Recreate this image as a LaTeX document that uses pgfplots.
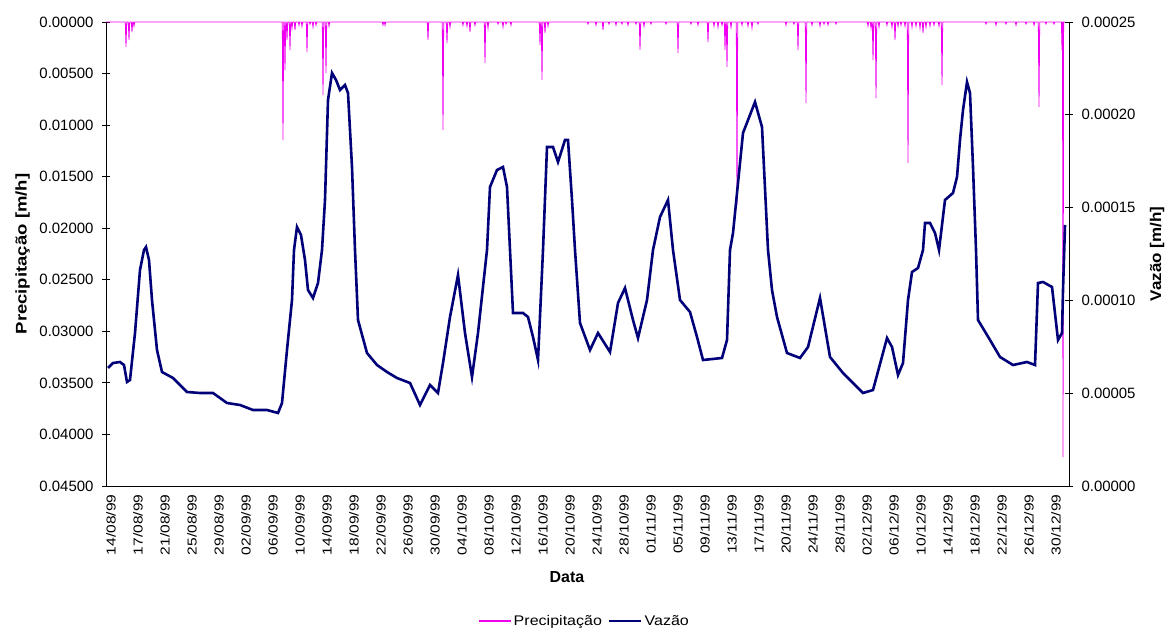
\documentclass[border=0pt]{standalone}
\usepackage{fontspec}
\setmainfont{Liberation Sans}
\usepackage{graphicx}
\usepackage{pgfplots}
\pgfplotsset{compat=1.18}

\definecolor{precip}{RGB}{240,0,240}
\definecolor{vazao}{RGB}{0,0,120}

% x positions are in plot-position units (0 = left edge, 963 = right edge),
% the dates are category labels spaced evenly as in the spreadsheet
\newcommand{\D}[1]{\scalebox{1.2}[1]{#1}}

\pgfplotsset{
  fmt5/.style={
    /pgf/number format/fixed,
    /pgf/number format/fixed zerofill,
    /pgf/number format/precision=5,
    /pgf/number format/1000 sep={},
    /pgf/number format/assume math mode=true},
}

\begin{document}
\begin{tikzpicture}
\path[use as bounding box] (-106bp,-147bp) rectangle (1066bp,486bp);

% --- Precipitação (left axis, reversed)
\begin{axis}[
  at={(0,0)}, anchor=south west,
  scale only axis,
  width=963bp, height=464bp,
  xmin=0, xmax=963,
  ymin=0, ymax=0.045,
  y dir=reverse,
  axis x line=bottom,
  axis y line=left,
  axis line style={black,line width=0.8bp,-},
  clip=false,
  xtick={5,32,59,86,113,140,167,194,221,248,275,302,329,356,383,410,437,464,491,518,545,572,599,626,653,680,707,734,761,788,815,842,869,896,923,950},
  xticklabels={\D{14/08/99},\D{17/08/99},\D{21/08/99},\D{25/08/99},\D{29/08/99},\D{02/09/99},\D{06/09/99},\D{10/09/99},\D{14/09/99},\D{18/09/99},\D{22/09/99},\D{26/09/99},\D{30/09/99},\D{04/10/99},\D{08/10/99},\D{12/10/99},\D{16/10/99},\D{20/10/99},\D{24/10/99},\D{28/10/99},\D{01/11/99},\D{05/11/99},\D{09/11/99},\D{13/11/99},\D{17/11/99},\D{20/11/99},\D{24/11/99},\D{28/11/99},\D{02/12/99},\D{06/12/99},\D{10/12/99},\D{14/12/99},\D{18/12/99},\D{22/12/99},\D{26/12/99},\D{30/12/99}},
  x tick label style={rotate=90, anchor=east, font=\fontsize{13}{15}\selectfont, xshift=-1bp},
  major x tick style={draw=none},
  ytick={0,0.005,...,0.0451},
  scaled y ticks=false,
  y tick label style={fmt5, font=\fontsize{15}{18}\selectfont, xshift=-5bp},
  major y tick style={black, line width=0.8bp},
  major tick length=8bp,
  tick align=center,
  xlabel={\bfseries Data},
  xlabel style={font=\fontsize{16}{18}\selectfont, at={(axis description cs:0.4787,-0.196)}, anchor=center},
  ylabel={\scalebox{1.2}[1]{\bfseries Precipitação [m/h]}},
  ylabel style={font=\fontsize{15.5}{18}\selectfont, at={(axis description cs:-0.0865,0.5)}, anchor=center},
]
\addplot[precip, line width=0.8bp] coordinates {
(0,0)
(19.3,0) (20,0.00242) (20.7,0)
(22.3,0) (23,0.00175) (23.7,0)
(25.3,0) (26,0.00097) (26.7,0)
(27.3,0) (28,0.0004) (28.7,0)
(176.3,0) (177,0.01144) (177.7,0)
(178.3,0) (179,0.00466) (179.7,0)
(180.3,0) (181,0.00175) (181.7,0)
(183.3,0) (184,0.00272) (184.7,0)
(185.3,0) (186,0.0006) (186.7,0)
(188.3,0) (189,0.00078) (189.7,0)
(192.3,0) (193,0.0003) (193.7,0)
(195.3,0) (196,0.0004) (196.7,0)
(200.3,0) (201,0.00291) (201.7,0)
(203.3,0) (204,0.0002) (204.7,0)
(206.3,0) (207,0.00048) (207.7,0)
(209.3,0) (210,0.0003) (210.7,0)
(216.3,0) (217,0.00708) (217.7,0)
(219.3,0) (220,0.00495) (220.7,0)
(222.3,0) (223,0.0004) (223.7,0)
(276.3,0) (277,0.00029) (277.7,0)
(278.3,0) (279,0.0003) (279.7,0)
(321.3,0) (322,0.00175) (322.7,0)
(336.3,0) (337,0.01047) (337.7,0)
(340.3,0) (341,0.00204) (341.7,0)
(343.3,0) (344,0.0005) (344.7,0)
(356.3,0) (357,0.0003) (357.7,0)
(360.3,0) (361,0.0004) (361.7,0)
(363.3,0) (364,0.00097) (364.7,0)
(368.3,0) (369,0.0003) (369.7,0)
(378.3,0) (379,0.00398) (379.7,0)
(381.3,0) (382,0.0006) (382.7,0)
(391.3,0) (392,0.0002) (392.7,0)
(396.3,0) (397,0.00048) (397.7,0)
(399.3,0) (400,0.0002) (400.7,0)
(404.3,0) (405,0.0003) (405.7,0)
(433.3,0) (434,0.00223) (434.7,0)
(435.3,0) (436,0.00562) (436.7,0)
(438.3,0) (439,0.00107) (439.7,0)
(441.3,0) (442,0.0004) (442.7,0)
(481.3,0) (482,0.0002) (482.7,0)
(489.3,0) (490,0.0003) (490.7,0)
(496.3,0) (497,0.00078) (497.7,0)
(502.3,0) (503,0.0002) (503.7,0)
(509.3,0) (510,0.0003) (510.7,0)
(515.3,0) (516,0.0002) (516.7,0)
(521.3,0) (522,0.0003) (522.7,0)
(529.3,0) (530,0.0002) (530.7,0)
(533.3,0) (534,0.00272) (534.7,0)
(537.3,0) (538,0.0004) (538.7,0)
(544.3,0) (545,0.0002) (545.7,0)
(559.3,0) (560,0.0002) (560.7,0)
(571.3,0) (572,0.00301) (572.7,0)
(584.3,0) (585,0.0002) (585.7,0)
(591.3,0) (592,0.0003) (592.7,0)
(601.3,0) (602,0.00194) (602.7,0)
(607.3,0) (608,0.0004) (608.7,0)
(611.3,0) (612,0.0005) (612.7,0)
(615.3,0) (616,0.0003) (616.7,0)
(618.3,0) (619,0.00272) (619.7,0)
(620.3,0) (621,0.00436) (621.7,0)
(624.3,0) (625,0.0005) (625.7,0)
(630.3,0) (631,0.01775) (631.7,0)
(635.3,0) (636,0.0003) (636.7,0)
(641.3,0) (642,0.0004) (642.7,0)
(645.3,0) (646,0.00058) (646.7,0)
(651.3,0) (652,0.0002) (652.7,0)
(679.3,0) (680,0.0003) (680.7,0)
(687.3,0) (688,0.0002) (688.7,0)
(691.3,0) (692,0.00272) (692.7,0)
(699.3,0) (700,0.00786) (700.7,0)
(705.3,0) (706,0.0003) (706.7,0)
(713.3,0) (714,0.0004) (714.7,0)
(717.3,0) (718,0.0002) (718.7,0)
(721.3,0) (722,0.00029) (722.7,0)
(729.3,0) (730,0.0002) (730.7,0)
(761.3,0) (762,0.0004) (762.7,0)
(764.3,0) (765,0.0006) (765.7,0)
(766.3,0) (767,0.00369) (767.7,0)
(769.3,0) (770,0.00737) (770.7,0)
(772.3,0) (773,0.0005) (773.7,0)
(780.3,0) (781,0.0003) (781.7,0)
(785.3,0) (786,0.0005) (786.7,0)
(788.3,0) (789,0.00175) (789.7,0)
(791.3,0) (792,0.0004) (792.7,0)
(794.3,0) (795,0.0003) (795.7,0)
(798.3,0) (799,0.0004) (799.7,0)
(801.3,0) (802,0.01367) (802.7,0)
(805.3,0) (806,0.0005) (806.7,0)
(809.3,0) (810,0.0004) (810.7,0)
(813.3,0) (814,0.0006) (814.7,0)
(816.3,0) (817,0.00107) (817.7,0)
(819.3,0) (820,0.0005) (820.7,0)
(823.3,0) (824,0.0004) (824.7,0)
(827.3,0) (828,0.0003) (828.7,0)
(832.3,0) (833,0.0004) (833.7,0)
(835.3,0) (836,0.00611) (836.7,0)
(879.3,0) (880,0.0002) (880.7,0)
(889.3,0) (890,0.0003) (890.7,0)
(899.3,0) (900,0.0002) (900.7,0)
(909.3,0) (910,0.0003) (910.7,0)
(919.3,0) (920,0.0002) (920.7,0)
(927.3,0) (928,0.0003) (928.7,0)
(932.3,0) (933,0.00824) (933.7,0)
(939.3,0) (940,0.0002) (940.7,0)
(947.3,0) (948,0.0002) (948.7,0)
(955.4,0) (956,0.00272) (956.5,0)
(957,0.04219) (957.6,0) (959,0)
};
\end{axis}

% --- Vazão (right axis)
\begin{axis}[
  at={(0,0)}, anchor=south west,
  scale only axis,
  width=963bp, height=464bp,
  xmin=0, xmax=963,
  ymin=0, ymax=0.00025,
  axis x line=none,
  axis y line=right,
  axis line style={black,line width=0.8bp,-},
  ytick={0,0.00005,0.0001,0.00015,0.0002,0.00025},
  scaled y ticks=false,
  y tick label style={fmt5, font=\fontsize{15}{18}\selectfont, xshift=5bp},
  major y tick style={black, line width=0.8bp},
  major tick length=8bp,
  tick align=center,
  ylabel={\scalebox{1.1}[1]{\bfseries Vazão [m/h]}},
  ylabel style={font=\fontsize{15.5}{18}\selectfont, at={(axis description cs:1.0914,0.5)}, anchor=center},
  legend style={at={(axis description cs:0.497,-0.291)}, anchor=center, draw=none, fill=none,
    font=\fontsize{14}{16}\selectfont, legend columns=2,
    /tikz/every even column/.append style={column sep=4bp}},
  legend cell align=left,
  legend image code/.code={\draw[#1] (0bp,0bp) -- (32bp,0bp);},
]
\addlegendimage{precip, line width=1.4bp}
\addlegendentry{\scalebox{1.15}[1]{Precipitação}}
\addplot[vazao, line width=2.6bp] coordinates {
(2,6.358e-5) (7,6.627e-5) (14,6.681e-5) (18,6.519e-5) (21,5.603e-5) (24,5.711e-5)
(29,8.244e-5) (34,11.638e-5) (38,12.716e-5) (40,12.877e-5) (43,12.177e-5) (46,10.022e-5)
(51,7.328e-5) (56,6.142e-5) (67,5.819e-5) (81,5.065e-5) (94,5.011e-5) (107,5.011e-5)
(121,4.472e-5) (134,4.364e-5) (147,4.095e-5) (161,4.095e-5) (172,3.933e-5) (176,4.472e-5)
(181,7.328e-5) (186,10.022e-5) (188,12.716e-5) (191,13.955e-5) (195,13.524e-5) (199,12.177e-5)
(202,10.560e-5) (207,10.129e-5) (212,10.938e-5) (216,12.716e-5) (219,15.410e-5) (222,20.798e-5)
(226,22.252e-5) (230,21.875e-5) (234,21.336e-5) (239,21.606e-5) (242,21.174e-5) (246,17.188e-5)
(249,12.716e-5) (252,8.944e-5) (261,7.166e-5) (271,6.519e-5) (281,6.142e-5) (291,5.819e-5)
(304,5.550e-5) (314,4.364e-5) (324,5.442e-5) (332,5.011e-5) (337,6.627e-5) (344,9.106e-5)
(352,11.369e-5) (359,8.244e-5) (366,5.873e-5) (372,8.244e-5) (381,12.716e-5) (384,16.110e-5)
(391,17.026e-5) (397,17.188e-5) (401,16.110e-5) (404,12.716e-5) (407,9.321e-5) (417,9.321e-5)
(422,9.106e-5) (427,8.028e-5) (432,6.789e-5) (437,12.716e-5) (441,18.265e-5) (447,18.265e-5)
(452,17.457e-5) (459,18.642e-5) (462,18.642e-5) (466,15.410e-5) (469,12.716e-5) (474,8.782e-5)
(484,7.328e-5) (492,8.244e-5) (504,7.220e-5) (512,9.860e-5) (519,10.668e-5) (527,8.944e-5)
(532,7.974e-5) (541,10.022e-5) (547,12.716e-5) (554,14.494e-5) (562,15.410e-5) (567,12.716e-5)
(574,10.022e-5) (584,9.375e-5) (591,8.028e-5) (597,6.789e-5) (616,6.897e-5) (621,7.867e-5)
(624,12.716e-5) (627,13.632e-5) (637,19.020e-5) (649,20.690e-5) (656,19.343e-5) (662,12.716e-5)
(666,10.560e-5) (671,9.106e-5) (681,7.166e-5) (694,6.897e-5) (702,7.489e-5) (714,10.129e-5)
(724,6.951e-5) (737,6.088e-5) (747,5.550e-5) (757,5.011e-5) (767,5.172e-5) (781,7.974e-5)
(786,7.489e-5) (792,5.981e-5) (797,6.627e-5) (802,10.022e-5) (806,11.530e-5) (812,11.746e-5)
(817,12.716e-5) (819,14.171e-5) (824,14.171e-5) (829,13.632e-5) (833,12.716e-5) (839,15.410e-5)
(847,15.787e-5) (851,16.649e-5) (854,18.642e-5) (857,20.259e-5) (861,21.767e-5) (864,21.174e-5)
(867,17.188e-5) (870,12.716e-5) (872,8.944e-5) (884,7.867e-5) (894,6.951e-5) (907,6.519e-5)
(921,6.681e-5) (929,6.519e-5) (932,10.938e-5) (937,10.992e-5) (946,10.722e-5) (952,7.867e-5)
(956,8.244e-5) (957,10.560e-5) (959,14.063e-5)
};
\addlegendentry{\scalebox{1.15}[1]{Vazão}}
\end{axis}
\end{tikzpicture}
\end{document}
